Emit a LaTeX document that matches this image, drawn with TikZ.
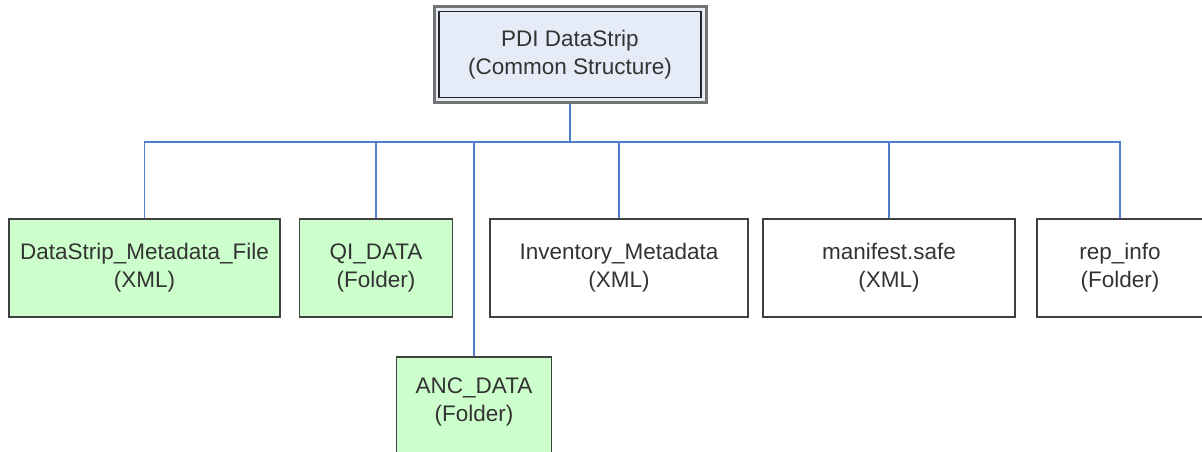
\documentclass[tikz,border=0pt]{standalone}
\usepackage{fontspec}
\setmainfont{Liberation Sans}
\begin{document}
\begin{tikzpicture}[x=1pt,y=-1pt,
  every node/.style={font=\fontsize{22.5}{28}\selectfont, text=black!80, align=center, inner sep=0pt},
  box/.style={draw=black!75, line width=1.6pt, minimum height=98pt},
  green/.style={box, fill=gbox},
  link/.style={draw=linkblue, line width=1.3pt}]
\definecolor{gbox}{HTML}{CCFFCC}
\definecolor{topfill}{HTML}{E6ECF7}
\definecolor{linkblue}{HTML}{4F7FCC}
\useasboundingbox (0,0) rectangle (1202,452);
\clip (0,0) rectangle (1202,452);
% top box with double border
\node[draw=black!55, line width=3pt, fill=topfill, minimum width=272pt, minimum height=95pt] (top) at (570,54.5) {};
\node[draw=black!85, line width=1.2pt, minimum width=262pt, minimum height=86pt] (topin) at (570,54.5) {PDI DataStrip\\(Common Structure)};
% second row
\node[green, minimum width=271pt] (b1) at (144.5,268) {DataStrip\_Metadata\_File\\(XML)};
\node[green, minimum width=153pt] (b2) at (376,268) {QI\_DATA\\(Folder)};
\node[box, minimum width=258pt] (b3) at (619,268) {Inventory\_Metadata\\(XML)};
\node[box, minimum width=252pt] (b4) at (889,268) {manifest.safe\\(XML)};
\node[box, minimum width=166pt] (b5) at (1120,268) {rep\_info\\(Folder)};
% third row
\node[green, minimum width=155pt, minimum height=110pt, anchor=north] (anc) at (474,356) {};
\node (anctext) at (474,402) {ANC\_DATA\\(Folder)};
% connectors
\coordinate (bus) at (0,142);
\draw[link] (top.south) -- (top.south |- bus);
\draw[link] (b1.north) -- (b1.north |- bus) -- (b5.north |- bus) -- (b5.north);
\draw[link] (b2.north) -- (b2.north |- bus);
\draw[link] (anc.north) -- (anc.north |- bus);
\draw[link] (b3.north) -- (b3.north |- bus);
\draw[link] (b4.north) -- (b4.north |- bus);
\end{tikzpicture}
\end{document}
